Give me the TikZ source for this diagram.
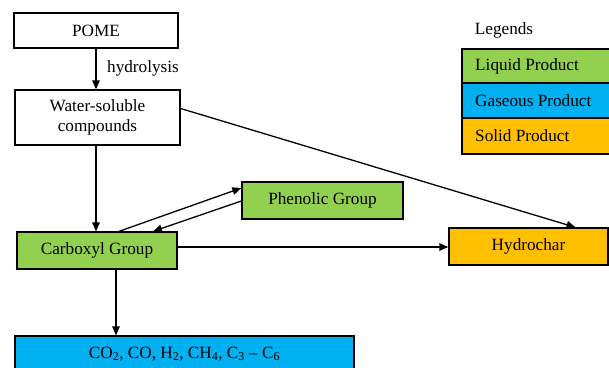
\documentclass[tikz,border=0pt]{standalone}
\usepackage{fontspec}
\setmainfont{Liberation Serif}
\usetikzlibrary{arrows.meta,calc}
\definecolor{liq}{RGB}{146,208,80}
\definecolor{gas}{RGB}{0,176,240}
\definecolor{sol}{RGB}{255,192,0}
\begin{document}
\begin{tikzpicture}[x=1pt,y=-1pt,
  every node/.style={font=\fontsize{17.2}{20}\selectfont},
  box/.style={draw=black,line width=1.3pt,rectangle,inner sep=0pt,align=center},
  conn/.style={line width=1.3pt,-{Triangle[length=9pt,width=7.5pt]}}]
\useasboundingbox (0,0) rectangle (609,367);
\clip (0,0) rectangle (609,367);
\node[box,minimum width=164pt,minimum height=35pt] (pome) at (96,30.5) {POME};
\node[box,minimum width=165pt,minimum height=55pt] (water) at (97.5,117.5) {Water-soluble\\compounds};
\node[box,fill=liq,minimum width=160pt,minimum height=37pt] (carb) at (97,250.5) {Carboxyl Group};
\node[box,fill=liq,minimum width=161pt,minimum height=37pt] (phen) at (322.5,200.5) {Phenolic Group};
\node[box,fill=sol,minimum width=159pt,minimum height=37pt] (hydro) at (528.5,246.5) {Hydrochar};
\node[box,fill=gas,minimum width=339pt,minimum height=36pt] (gasbox) at (184.5,354) {};
\node (gastext) at (184.5,354) {CO\textsubscript{2}, CO, H\textsubscript{2}, CH\textsubscript{4}, C\textsubscript{3} – C\textsubscript{6}};
% legend
\node (leg) at (504,30) {Legends};
\draw[fill=liq,line width=1.3pt] (462,49) rectangle (620,83);
\draw[fill=gas,line width=1.3pt] (462,83) rectangle (620,118);
\draw[fill=sol,line width=1.3pt] (462,118) rectangle (620,154);
\node[anchor=west,inner sep=0pt] (l1) at (475,66) {Liquid Product};
\node[anchor=west,inner sep=0pt] (l2) at (475,100.5) {Gaseous Product};
\node[anchor=west,inner sep=0pt] (l3) at (475,136) {Solid Product};
% connectors
\draw[conn] (pome.south) -- (pome.south |- water.north);
\node (hyd) at (143,68) {hydrolysis};
\draw[conn] ([xshift=-1.5pt]water.south) -- ([xshift=-1.5pt]water.south |- carb.north);
\draw[conn] ([yshift=9pt]water.east) -- ([xshift=47pt]hydro.north);
\draw[conn] ([xshift=22pt]carb.north) -- ([yshift=12.5pt]phen.west);
\draw[conn] ([yshift=-0.5pt]phen.west) -- ([xshift=56pt]carb.north);
\draw[conn] ([yshift=3.5pt]carb.east) -- ([yshift=3.5pt]carb.east -| hydro.west);
\draw[conn] ([xshift=19pt]carb.south) -- ([xshift=19pt]carb.south |- gasbox.north);
\end{tikzpicture}
\end{document}
